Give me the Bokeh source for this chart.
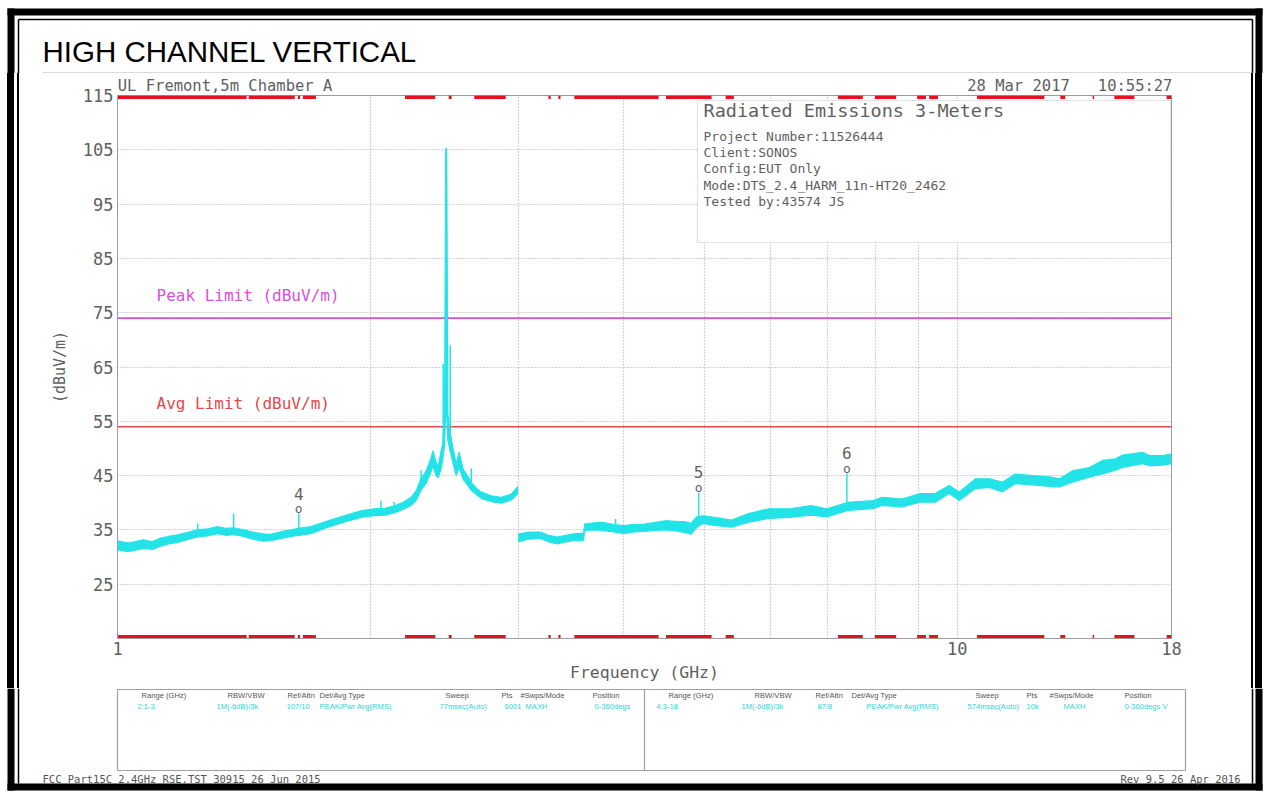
from bokeh.plotting import figure
from bokeh.layouts import column, row
from bokeh.models import (Range1d, FixedTicker, Label, BoxAnnotation, ColumnDataSource,
                          BasicTickFormatter, Div, LogAxis)
from bokeh.core.properties import value
from bokeh.embed import file_html
from bokeh.resources import INLINE

# ---------------- data ----------------
# sweep 1 : 1 - 3 GHz, peak-hold envelope (lower / upper edge of the noisy trace), dBuV/m
sweep1_freq = [1.000, 1.030, 1.074, 1.100, 1.125, 1.150, 1.179, 1.210, 1.246, 1.280, 1.316, 1.345,
               1.375, 1.414, 1.450, 1.489, 1.522, 1.578, 1.644, 1.699, 1.781, 1.861, 1.950, 2.021,
               2.080, 2.135, 2.190, 2.237, 2.270, 2.299, 2.330, 2.360, 2.376, 2.395, 2.409, 2.429,
               2.440, 2.452, 2.459, 2.463, 2.467, 2.474, 2.490, 2.503, 2.531, 2.552, 2.580, 2.610,
               2.638, 2.680, 2.712, 2.787, 2.864, 2.944, 2.999]
sweep1_lo = [31.3, 31.0, 31.6, 31.4, 32.0, 32.4, 32.7, 33.2, 33.7, 33.9, 34.3, 34.0,
             34.1, 33.8, 33.3, 32.9, 33.0, 33.5, 34.0, 34.3, 35.5, 36.4, 37.3, 37.6,
             37.7, 38.1, 38.8, 39.5, 40.5, 42.3, 43.5, 45.5, 46.8, 45.0, 44.6, 46.3,
             48.0, 50.5, 56.0, 62.0, 56.0, 51.5, 49.5, 48.0, 45.0, 46.5, 44.3, 43.3,
             42.3, 41.4, 40.8, 40.2, 39.9, 40.5, 41.7]
sweep1_hi = [33.0, 32.6, 33.2, 32.8, 33.5, 33.8, 34.1, 34.5, 35.0, 35.2, 35.6, 35.3,
             35.4, 35.0, 34.6, 34.3, 34.2, 34.8, 35.3, 35.6, 36.7, 37.6, 38.5, 38.9,
             39.0, 39.4, 40.1, 41.0, 42.3, 44.5, 45.8, 48.0, 49.6, 47.5, 46.6, 49.6,
             51.0, 55.0, 104.6, 105.4, 104.6, 56.5, 53.0, 51.0, 47.2, 49.3, 46.2, 45.0,
             43.7, 42.6, 42.0, 41.3, 41.0, 41.6, 43.0]

# sweep 2 : 3 - 18 GHz
sweep2_freq = [3.000, 3.080, 3.188, 3.260, 3.342, 3.420, 3.491, 3.590, 3.600, 3.700, 3.780, 3.900,
               4.006, 4.120, 4.243, 4.370, 4.495, 4.620, 4.749, 4.820, 4.895, 4.977, 5.143, 5.389,
               5.646, 5.968, 6.319, 6.695, 6.997, 7.413, 7.939, 8.137, 8.599, 9.033, 9.413, 9.783,
               10.06, 10.51, 10.92, 11.32, 11.73, 12.29, 12.88, 13.23, 13.72, 14.37, 14.89, 15.44,
               15.74, 16.63, 16.95, 17.56, 18.00]
sweep2_lo = [32.8, 33.3, 33.4, 32.8, 32.4, 32.8, 33.0, 33.1, 34.9, 35.0, 34.9, 34.6,
             34.3, 34.6, 34.7, 34.9, 35.0, 34.8, 34.5, 34.2, 35.4, 36.2, 35.8, 35.5,
             36.4, 37.1, 37.3, 37.7, 37.4, 38.6, 38.9, 39.5, 39.2, 40.1, 40.1, 41.7,
             40.4, 42.6, 42.8, 42.0, 43.5, 43.3, 43.0, 42.9, 43.8, 44.7, 45.3, 46.0,
             46.5, 47.2, 46.8, 46.9, 47.2]
sweep2_hi = [34.2, 34.6, 34.6, 34.0, 33.7, 34.0, 34.3, 34.4, 36.1, 36.3, 36.4, 36.0,
             35.8, 36.0, 36.1, 36.4, 36.7, 36.6, 36.5, 36.2, 37.4, 37.6, 37.3, 36.8,
             38.0, 38.9, 38.9, 39.5, 38.9, 40.1, 40.4, 41.0, 40.7, 41.7, 41.7, 43.2,
             42.0, 44.4, 44.4, 43.8, 45.3, 45.0, 44.8, 44.4, 45.9, 46.5, 47.8, 48.1,
             48.8, 49.3, 48.7, 48.7, 49.0]

# narrow spurs sticking out of the trace
spur_freq = [1.246, 1.375, 2.060, 2.135, 2.299, 2.443, 2.490, 2.638, 3.919]
spur_base = [35.0, 35.4, 38.9, 39.4, 44.5, 50.0, 53.0, 43.7, 36.0]
spur_top = [36.2, 38.0, 40.4, 40.2, 46.0, 65.6, 69.0, 46.3, 37.0]

# numbered markers
marker_id = ["4", "5", "6"]
marker_freq = [1.644, 4.922, 7.390]
marker_base = [35.3, 37.5, 40.0]
marker_level = [38.0, 41.9, 45.4]

# limit lines
limit_freq = [1.0, 18.0]
peak_limit = [74.0, 74.0]
avg_limit = [54.0, 54.0]

# red scan-segment indicators (GHz)
scan_start = [1.000, 1.433, 1.640, 1.663, 2.200, 2.480, 2.660, 3.260, 3.350, 3.500, 4.500,
              5.300, 7.210, 7.980, 8.960, 9.260, 10.56, 13.27, 14.50, 15.39, 17.76]
scan_end = [1.425, 1.626, 1.650, 1.723, 2.390, 2.500, 2.900, 3.280, 3.370, 4.410, 5.100,
            5.420, 7.720, 8.460, 9.180, 9.490, 12.70, 13.45, 14.56, 16.26, 18.00]

# axes
x_ticks = [1, 2, 3, 4, 5, 6, 7, 8, 9, 10, 18]
x_tick_labels = {1: "1", 2: "", 3: "", 4: "", 5: "", 6: "", 7: "", 8: "", 9: "", 10: "10", 18: "18"}
y_ticks = [15, 25, 35, 45, 55, 65, 75, 85, 95, 105, 115]
y_tick_labels = {15: ""}

# header / info texts
title_text = "HIGH CHANNEL VERTICAL"
site_text = "UL Fremont,5m Chamber A"
date_time_text = "28 Mar 2017\u00a0\u00a0\u00a010:55:27"
info_title = "Radiated Emissions 3-Meters"
info_lines = ["Project Number:11526444", "Client:SONOS", "Config:EUT Only",
              "Mode:DTS_2.4_HARM_11n-HT20_2462", "Tested by:43574 JS"]
table_headers = ["Range (GHz)", "RBW/VBW", "Ref/Attn", "Det/Avg Type", "Sweep", "Pts", "#Swps/Mode", "Position"]
table_row1 = ["2:1-3", "1M(-6dB)/3k", "107/10", "PEAK/Pwr Avg(RMS)", "77msec(Auto)", "6001", "MAXH", "0-360degs"]
table_row2 = ["4:3-18", "1M(-6dB)/3k", "87/8", "PEAK/Pwr Avg(RMS)", "574msec(Auto)", "10k", "MAXH", "0-360degs V"]
footer_left = "FCC Part15C 2.4GHz RSE.TST 30915 26 Jun 2015"
footer_right = "Rev 9.5 26 Apr 2016"

# ---------------- styling constants ----------------
GRAY = "#5f5f5f"
CYAN = "#22e3e8"
MONO = "DejaVu Sans Mono"
PAGE_W = 1267
TOP_H = 73          # page y 0..73
MID_H = 615         # page y 73..688
BOT_H = 105         # page y 688..793
LEFT_W = 40         # page x 0..40
MAIN_W = 1200       # page x 40..1240
RIGHT_W = PAGE_W - LEFT_W - MAIN_W


def canvas_fig(w, h):
    f = figure(width=w, height=h, x_range=Range1d(0, w), y_range=Range1d(h, 0),
               output_backend="svg", toolbar_location=None, title=None,
               x_axis_location=None, y_axis_location=None,
               min_border=0, min_border_left=0, min_border_right=0,
               min_border_top=0, min_border_bottom=0)
    f.grid.visible = False
    f.outline_line_color = None
    f.background_fill_color = "white"
    f.border_fill_color = "white"
    return f


def put_text(f, xs, ys, texts, size, color=GRAY, font=MONO, align="left"):
    # ys = vertical centre of the text
    f.text(x=xs, y=ys, text=texts, text_font=value(font), text_font_size=value(size),
           text_color=color, text_align=align, text_baseline="middle")


# ---------------- top strip ----------------
top = canvas_fig(PAGE_W, TOP_H)
top.quad(left=[7, 7, 1255], right=[1262, 14, 1262], top=[8, 8, 8], bottom=[15, TOP_H, TOP_H],
         fill_color="black", line_color=None)
top.segment(x0=[18, 18, 1252], y0=[19, 19, 19], x1=[1252, 18, 1252], y1=[19, TOP_H, TOP_H],
            line_color="black", line_width=1.5)
top.segment(x0=[42], y0=[72.5], x1=[1252], y1=[72.5], line_color="#b4b4b4", line_width=1)
put_text(top, [42], [51], [title_text], "29.5px", color="black", font="Liberation Sans")

# ---------------- side strips (double frame lines drawn with CSS gradients) ----------------
left = Div(text="", width=LEFT_W, height=MID_H, margin=(0, 0, 0, 0),
           styles={"background": "linear-gradient(to right, #fff 0px, #fff 7px, #000 7px, #000 14px, "
                                 "#fff 14px, #fff 17.25px, #000 17.25px, #000 18.75px, #fff 18.75px, #fff 100%)"})
right = Div(text="", width=RIGHT_W, height=MID_H, margin=(0, 0, 0, 0),
            styles={"background": "linear-gradient(to right, #fff 0px, #fff 11.25px, #000 11.25px, #000 12.75px, "
                                  "#fff 12.75px, #fff 15px, #000 15px, #000 22px, #fff 22px, #fff 100%)"})

# ---------------- main plot ----------------
p = figure(width=MAIN_W, height=MID_H, x_axis_type="log",
           x_range=Range1d(1, 18), y_range=Range1d(15, 115),
           output_backend="svg", toolbar_location=None, title=None,
           min_border_left=77, min_border_right=69, min_border_top=22, min_border_bottom=50)
p.background_fill_color = "white"
p.border_fill_color = "white"
p.outline_line_color = "#9c9c9c"
p.outline_line_width = 1

p.xaxis.ticker = FixedTicker(ticks=x_ticks)
p.xaxis.formatter = BasicTickFormatter()
p.xaxis.major_label_overrides = x_tick_labels
p.yaxis.ticker = FixedTicker(ticks=y_ticks)
p.yaxis.major_label_overrides = y_tick_labels
p.xgrid.ticker = FixedTicker(ticks=x_ticks)
p.ygrid.ticker = FixedTicker(ticks=y_ticks)

for ax in (p.xaxis[0], p.yaxis[0]):
    ax.axis_line_color = "#9c9c9c"
    ax.major_tick_line_color = None
    ax.minor_tick_line_color = None
    ax.major_tick_out = 0
    ax.major_tick_in = 0
    ax.minor_tick_out = 0
    ax.minor_tick_in = 0
    ax.major_label_text_font = MONO
    ax.major_label_text_font_size = "17px"
    ax.major_label_text_color = GRAY
    ax.axis_label_text_font = MONO
    ax.axis_label_text_font_style = "normal"
    ax.axis_label_text_color = GRAY

p.xaxis.axis_label = "Frequency (GHz)"
p.xaxis.axis_label_text_font_size = "16.5px"
p.xaxis.major_label_standoff = 3
p.xaxis.axis_label_standoff = 5
p.yaxis.axis_label = "(dBuV/m)"
p.yaxis.axis_label_text_font_size = "15px"
p.yaxis.major_label_standoff = 4
p.yaxis.axis_label_standoff = 11

# header line above the graticule (site name on the left, date/time on the right)
header_pos = [1.343, 13.62]
header_axis = LogAxis(ticker=FixedTicker(ticks=header_pos),
                      major_label_overrides={header_pos[0]: site_text, header_pos[1]: date_time_text},
                      axis_line_color=None, major_tick_line_color=None, minor_tick_line_color=None,
                      major_tick_out=0, major_tick_in=0, minor_tick_out=0, minor_tick_in=0,
                      major_label_standoff=1, major_label_text_font=MONO,
                      major_label_text_font_size="15.5px", major_label_text_color=GRAY)
p.add_layout(header_axis, "above")

for g in (p.xgrid[0], p.ygrid[0]):
    g.grid_line_color = "#a8a8a8"
    g.grid_line_dash = "1 2"
    g.grid_line_width = 1.2

# limit lines
p.line(limit_freq, peak_limit, line_color="#d94fd9", line_width=1.6)
p.line(limit_freq, avg_limit, line_color="#e04a4a", line_width=1.6)

# trace
for fq, lo, hi in ((sweep1_freq, sweep1_lo, sweep1_hi), (sweep2_freq, sweep2_lo, sweep2_hi)):
    p.varea(x=fq, y1=lo, y2=hi, fill_color=CYAN)
    p.line(fq, lo, line_color=CYAN, line_width=1.1)
    p.line(fq, hi, line_color=CYAN, line_width=1.1)

p.segment(x0=spur_freq, y0=spur_base, x1=spur_freq, y1=spur_top, line_color=CYAN, line_width=1.5)
p.segment(x0=marker_freq, y0=marker_base, x1=marker_freq, y1=marker_level, line_color=CYAN, line_width=1.5)

msrc = ColumnDataSource(dict(x=marker_freq, y=marker_level, id=marker_id, o=["o"] * len(marker_id)))
p.text(x="x", y="y", text="o", source=msrc, y_offset=-5, text_align="center", text_baseline="middle",
       text_font=value(MONO), text_font_size=value("13px"), text_color=GRAY)
p.text(x="x", y="y", text="id", source=msrc, y_offset=-20, text_align="center", text_baseline="middle",
       text_font=value(MONO), text_font_size=value("16px"), text_color=GRAY)

# red scan indicators along top and bottom of the graticule
p.segment(x0=scan_start, y0=[114.7] * len(scan_start), x1=scan_end, y1=[114.7] * len(scan_end),
          line_color="#e8101c", line_width=3.5)
p.segment(x0=scan_start, y0=[15.3] * len(scan_start), x1=scan_end, y1=[15.3] * len(scan_end),
          line_color="#e8101c", line_width=3.5)


# annotations inside the frame (screen units relative to frame bottom-left: page x 117, page y 638)
def add_label(X, Yc, text, size, color=GRAY):
    p.add_layout(Label(x=X - 117, y=638 - Yc, x_units="screen", y_units="screen", text=text,
                       text_font=MONO, text_font_size=size, text_color=color,
                       text_align="left", text_baseline="middle"))


add_label(156, 294.5, "Peak Limit (dBuV/m)", "16px", color="#d94fd9")
add_label(156, 403, "Avg Limit (dBuV/m)", "16px", color="#e04a4a")

p.add_layout(BoxAnnotation(left=697 - 117, right=1170 - 117, top=638 - 100, bottom=638 - 242,
                           left_units="screen", right_units="screen",
                           top_units="screen", bottom_units="screen",
                           fill_color="white", fill_alpha=1, line_color="#a0a0a0", line_width=1.2))
add_label(703, 110, info_title, "18.5px")
for i, t in enumerate(info_lines):
    add_label(703, 136 + 16.2 * i, t, "13px")

# ---------------- bottom strip ----------------
bot = canvas_fig(PAGE_W, BOT_H)
Y0 = 688
bot.quad(left=[7, 7, 1255], right=[1262, 14, 1262], top=[783 - Y0, 0, 0], bottom=[790 - Y0] * 3,
         fill_color="black", line_color=None)
bot.segment(x0=[18, 1252], y0=[0, 0], x1=[18, 1252], y1=[783 - Y0, 783 - Y0], line_color="black", line_width=1.5)
# settings table frame
bot.segment(x0=[117, 117, 117, 1185, 644], y0=[689 - Y0, 770 - Y0, 689 - Y0, 689 - Y0, 689 - Y0],
            x1=[1185, 1185, 117, 1185, 644], y1=[689 - Y0, 770 - Y0, 770 - Y0, 770 - Y0, 770 - Y0],
            line_color="#a0a0a0", line_width=1.2)
hx1 = [141, 227, 287, 319, 445, 501, 520, 592]
vx1 = [137, 216, 286, 319, 439, 504, 525, 594]
hx2 = [668, 754, 815, 851, 975, 1026, 1049, 1124]
vx2 = [656, 741, 817, 866, 967, 1026, 1063, 1124]
put_text(bot, hx1 + hx2, [695 - Y0] * 16, table_headers + table_headers, "7.6px",
         color="#555555", font="Liberation Sans")
put_text(bot, vx1 + vx2, [706 - Y0] * 16, table_row1 + table_row2, "7.6px",
         color="#33d0dc", font="Liberation Sans")
put_text(bot, [42], [778 - Y0], [footer_left], "10.5px", color="#555555")
put_text(bot, [1240], [778 - Y0], [footer_right], "10.5px", color="#555555", align="right")

layout = column(top, row(left, p, right), bot)
open("out.html", "w").write(file_html(layout, INLINE))
